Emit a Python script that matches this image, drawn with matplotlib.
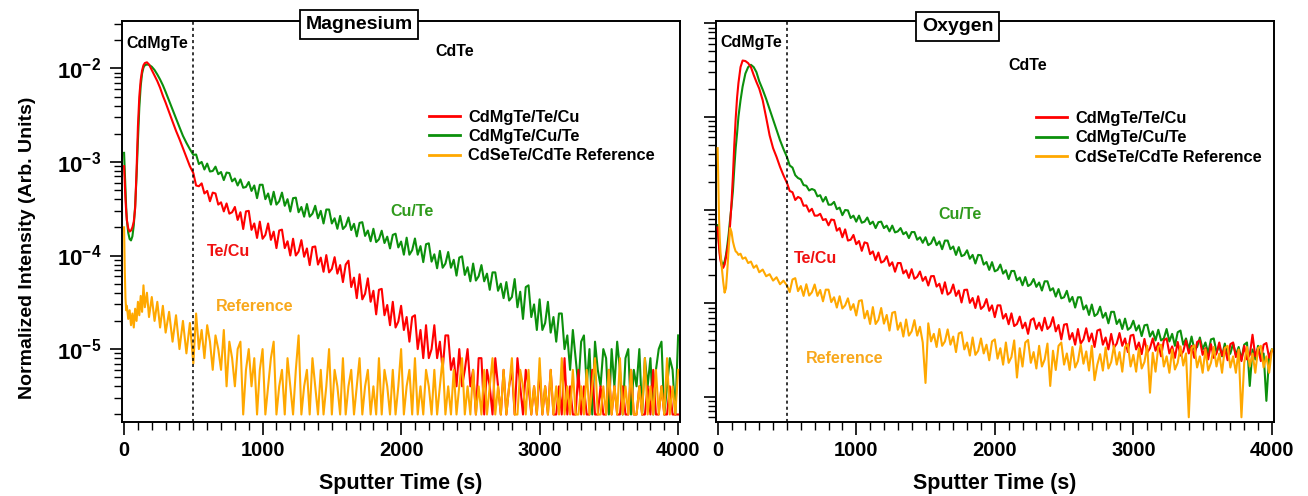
import matplotlib.pyplot as plt
from matplotlib.ticker import FuncFormatter, LogLocator, MultipleLocator, NullFormatter
import numpy as np

plt.rcParams['font.family'] = ['Liberation Sans', 'DejaVu Sans']
plt.rcParams['font.weight'] = 'bold'
plt.rcParams['axes.labelweight'] = 'bold'
plt.rcParams['mathtext.fontset'] = 'custom'
plt.rcParams['mathtext.rm'] = 'Liberation Sans:bold'
plt.rcParams['mathtext.bf'] = 'Liberation Sans:bold'

# sputter time (s): dense sampling around the CdMgTe peak, then every 20 s
PEAK_TIME = [0, 5, 10, 15, 20, 30, 40, 50, 60, 70, 80, 90, 100, 110, 120, 130,
             140, 150, 165, 180, 200, 220, 240, 260, 280, 300, 325, 350, 375,
             400, 425, 450, 475, 500]
TAIL_TIME = [520, 540, 560, 580, 600, 620, 640, 660, 680, 700,
             720, 740, 760, 780, 800, 820, 840, 860, 880, 900,
             920, 940, 960, 980, 1000, 1020, 1040, 1060, 1080, 1100,
             1120, 1140, 1160, 1180, 1200, 1220, 1240, 1260, 1280, 1300,
             1320, 1340, 1360, 1380, 1400, 1420, 1440, 1460, 1480, 1500,
             1520, 1540, 1560, 1580, 1600, 1620, 1640, 1660, 1680, 1700,
             1720, 1740, 1760, 1780, 1800, 1820, 1840, 1860, 1880, 1900,
             1920, 1940, 1960, 1980, 2000, 2020, 2040, 2060, 2080, 2100,
             2120, 2140, 2160, 2180, 2200, 2220, 2240, 2260, 2280, 2300,
             2320, 2340, 2360, 2380, 2400, 2420, 2440, 2460, 2480, 2500,
             2520, 2540, 2560, 2580, 2600, 2620, 2640, 2660, 2680, 2700,
             2720, 2740, 2760, 2780, 2800, 2820, 2840, 2860, 2880, 2900,
             2920, 2940, 2960, 2980, 3000, 3020, 3040, 3060, 3080, 3100,
             3120, 3140, 3160, 3180, 3200, 3220, 3240, 3260, 3280, 3300,
             3320, 3340, 3360, 3380, 3400, 3420, 3440, 3460, 3480, 3500,
             3520, 3540, 3560, 3580, 3600, 3620, 3640, 3660, 3680, 3700,
             3720, 3740, 3760, 3780, 3800, 3820, 3840, 3860, 3880, 3900,
             3920, 3940, 3960, 3980, 4000]
TIME = PEAK_TIME + TAIL_TIME

# ---- Magnesium panel ----
MG_TE_CU = [9e-4, 6e-4, 4e-4, 3e-4, 2.4e-4, 1.95e-4, 1.8e-4, 1.85e-4, 2.0e-4, 2.3e-4,
            3.2e-4, 8e-4, 2.4e-3, 5e-3, 7.5e-3, 9.5e-3, 1.08e-2, 1.14e-2, 1.16e-2, 1.1e-2,
            9.6e-3, 8.4e-3, 7.3e-3, 6.2e-3, 5.1e-3, 4.3e-3, 3.4e-3, 2.7e-3, 2.15e-3, 1.75e-3,
            1.4e-3, 1.12e-3, 9e-4, 7.6e-4,
            5.6e-4, 5.5e-4, 5.9e-4, 4.6e-4, 4.9e-4, 3.8e-4, 4.7e-4, 4.6e-4, 3.5e-4, 3.7e-4,
            2.96e-4, 3.6e-4, 2.8e-4, 2.9e-4, 3.3e-4, 2.4e-4, 2.9e-4, 1.92e-4, 2.96e-4, 3.0e-4,
            1.88e-4, 2.2e-4, 1.54e-4, 2.3e-4, 1.51e-4, 1.66e-4, 2.2e-4, 1.47e-4, 1.8e-4, 1.2e-4,
            1.85e-4, 1.89e-4, 1.2e-4, 1.42e-4, 1.0e-4, 1.51e-4, 1.0e-4, 1.1e-4, 1.46e-4, 9.7e-5,
            1.19e-4, 7.9e-5, 1.23e-4, 1.25e-4, 8.0e-5, 9.5e-5, 6.7e-5, 1.01e-4, 6.6e-5, 7.2e-5,
            9.6e-5, 6.4e-5, 7.9e-5, 5.2e-5, 8.0e-5, 8.8e-5, 4.6e-5, 5.8e-5, 3.5e-5, 6.3e-5,
            3.4e-5, 3.9e-5, 5.7e-5, 3.2e-5, 4.2e-5, 2.35e-5, 4.3e-5, 4.4e-5, 2.3e-5, 2.96e-5,
            1.8e-5, 3.2e-5, 1.7e-5, 1.97e-5, 2.9e-5, 1.6e-5, 2.2e-5, 1.2e-5, 2.2e-5, 2.3e-5,
            1.0e-5, 1.6e-5, 8e-6, 1.8e-5, 8e-6, 1.0e-5, 1.8e-5, 8e-6, 1.2e-5, 6e-6,
            1.4e-5, 1.4e-5, 6e-6, 8e-6, 4e-6, 1.0e-5, 4e-6, 6e-6, 1.0e-5, 4e-6,
            6e-6, 2e-6, 8e-6, 8e-6, 2e-6, 6e-6, 4e-6, 2e-6, 8e-6, 4e-6,
            2e-6, 6e-6, 2e-6, 4e-6, 6e-6, 2e-6, 8e-6, 4e-6, 2e-6, 6e-6,
            4e-6, 2e-6, 4e-6, 2e-6, 6e-6, 2e-6, 4e-6, 2e-6, 6e-6, 2e-6,
            2e-6, 4e-6, 2e-6, 8e-6, 2e-6, 4e-6, 2e-6, 2e-6, 6e-6, 2e-6,
            4e-6, 2e-6, 2e-6, 6e-6, 2e-6, 2e-6, 4e-6, 2e-6, 2e-6, 6e-6,
            2e-6, 4e-6, 2e-6, 2e-6, 4e-6, 2e-6, 2e-6, 6e-6, 2e-6, 2e-6,
            4e-6, 2e-6, 2e-6, 4e-6, 2e-6, 6e-6, 2e-6, 2e-6, 4e-6, 2e-6,
            2e-6, 4e-6, 2e-6, 2e-6, 2e-6]
MG_CU_TE = [1.25e-3, 8e-4, 5e-4, 3.3e-4, 2.4e-4, 1.75e-4, 1.5e-4, 1.45e-4, 1.6e-4, 2.1e-4,
            3.4e-4, 7e-4, 1.7e-3, 3.8e-3, 6.5e-3, 8.8e-3, 1.02e-2, 1.08e-2, 1.1e-2, 1.09e-2,
            1.04e-2, 9.6e-3, 8.6e-3, 7.6e-3, 6.6e-3, 5.6e-3, 4.5e-3, 3.6e-3, 2.9e-3, 2.35e-3,
            1.9e-3, 1.6e-3, 1.37e-3, 1.19e-3,
            1.2e-3, 9.5e-4, 1.0e-3, 8.3e-4, 9.6e-4, 7.9e-4, 8.0e-4, 8.9e-4, 7.4e-4, 7.8e-4,
            6.4e-4, 7.7e-4, 7.6e-4, 6.2e-4, 6.65e-4, 5.6e-4, 6.5e-4, 5.3e-4, 5.4e-4, 6.1e-4,
            4.9e-4, 5.6e-4, 4.1e-4, 5.7e-4, 5.7e-4, 4.0e-4, 4.6e-4, 3.5e-4, 4.8e-4, 3.5e-4,
            3.8e-4, 4.7e-4, 3.4e-4, 4.0e-4, 2.95e-4, 4.1e-4, 4.15e-4, 2.9e-4, 3.3e-4, 2.6e-4,
            3.55e-4, 2.6e-4, 2.8e-4, 3.4e-4, 2.5e-4, 3.0e-4, 2.2e-4, 3.1e-4, 3.1e-4, 2.2e-4,
            2.5e-4, 1.93e-4, 2.65e-4, 1.92e-4, 2.07e-4, 2.55e-4, 1.87e-4, 2.18e-4, 1.6e-4, 2.23e-4,
            2.27e-4, 1.62e-4, 1.85e-4, 1.42e-4, 1.93e-4, 1.39e-4, 1.49e-4, 1.84e-4, 1.36e-4, 1.59e-4,
            1.19e-4, 1.66e-4, 1.71e-4, 1.22e-4, 1.41e-4, 1.02e-4, 1.55e-4, 1.02e-4, 1.14e-4, 1.52e-4,
            1.02e-4, 1.26e-4, 8.5e-5, 1.32e-4, 1.35e-4, 8.6e-5, 1.03e-4, 7.3e-5, 1.12e-4, 7.4e-5,
            8.2e-5, 1.09e-4, 7.4e-5, 9.0e-5, 6.1e-5, 9.5e-5, 9.8e-5, 6.2e-5, 7.5e-5, 5.3e-5,
            8.2e-5, 5.4e-5, 6.0e-5, 7.9e-5, 5.3e-5, 6.4e-5, 4.3e-5, 6.6e-5, 6.6e-5, 4.2e-5,
            5.0e-5, 3.5e-5, 5.2e-5, 3.3e-5, 3.6e-5, 5.6e-5, 2.8e-5, 4.1e-5, 2.1e-5, 4.6e-5,
            4.8e-5, 2.2e-5, 3.0e-5, 1.6e-5, 3.4e-5, 1.6e-5, 1.9e-5, 3.2e-5, 1.5e-5, 2.2e-5,
            1.2e-5, 2.4e-5, 2.4e-5, 1.0e-5, 1.4e-5, 6e-6, 1.6e-5, 8e-6, 4e-6, 1.2e-5,
            1.4e-5, 4e-6, 1.0e-5, 2e-6, 1.2e-5, 6e-6, 4e-6, 1.0e-5, 8e-6, 2e-6,
            1.0e-5, 4e-6, 1.2e-5, 6e-6, 2e-6, 8e-6, 1.0e-5, 2e-6, 6e-6, 4e-6,
            1.0e-5, 2e-6, 8e-6, 4e-6, 8e-6, 2e-6, 6e-6, 1.0e-5, 1.2e-5, 2e-6,
            4e-6, 8e-6, 6e-6, 2e-6, 1.4e-5]
MG_REF = [2.0e-4, 7e-5, 3.5e-5, 2.6e-5, 2.9e-5, 2.1e-5, 2.6e-5, 1.8e-5, 2.4e-5, 1.7e-5,
          2.7e-5, 2.0e-5, 3.2e-5, 2.3e-5, 3.7e-5, 2.5e-5, 4.8e-5, 2.8e-5, 4.0e-5, 2.2e-5,
          3.6e-5, 2.0e-5, 3.2e-5, 1.7e-5, 2.9e-5, 1.5e-5, 2.5e-5, 1.2e-5, 2.3e-5, 1.0e-5,
          2.0e-5, 9e-6, 1.9e-5, 7e-6,
          2.4e-5, 1.0e-5, 1.6e-5, 8e-6, 1.8e-5, 1.2e-5, 6e-6, 1.4e-5, 1.0e-5, 6e-6,
          1.6e-5, 4e-6, 1.2e-5, 8e-6, 4e-6, 1.0e-5, 1.2e-5, 2e-6, 6e-6, 1.0e-5,
          4e-6, 8e-6, 2e-6, 6e-6, 1.0e-5, 2e-6, 4e-6, 8e-6, 1.2e-5, 2e-6,
          4e-6, 6e-6, 2e-6, 8e-6, 4e-6, 2e-6, 6e-6, 1.4e-5, 2e-6, 4e-6,
          6e-6, 2e-6, 8e-6, 4e-6, 2e-6, 6e-6, 2e-6, 4e-6, 1.0e-5, 2e-6,
          6e-6, 4e-6, 2e-6, 8e-6, 2e-6, 4e-6, 6e-6, 2e-6, 4e-6, 8e-6,
          2e-6, 4e-6, 6e-6, 2e-6, 4e-6, 2e-6, 8e-6, 2e-6, 6e-6, 4e-6,
          2e-6, 6e-6, 2e-6, 4e-6, 1.0e-5, 2e-6, 4e-6, 6e-6, 2e-6, 8e-6,
          2e-6, 4e-6, 2e-6, 6e-6, 4e-6, 2e-6, 6e-6, 2e-6, 4e-6, 8e-6,
          2e-6, 4e-6, 2e-6, 6e-6, 2e-6, 4e-6, 8e-6, 2e-6, 4e-6, 2e-6,
          6e-6, 2e-6, 4e-6, 2e-6, 6e-6, 2e-6, 4e-6, 8e-6, 2e-6, 4e-6,
          2e-6, 6e-6, 2e-6, 4e-6, 8e-6, 2e-6, 2e-6, 6e-6, 4e-6, 2e-6,
          6e-6, 2e-6, 4e-6, 2e-6, 8e-6, 2e-6, 4e-6, 2e-6, 6e-6, 2e-6,
          4e-6, 2e-6, 8e-6, 2e-6, 4e-6, 2e-6, 6e-6, 2e-6, 2e-6, 4e-6,
          2e-6, 6e-6, 2e-6, 4e-6, 8e-6, 2e-6, 2e-6, 4e-6, 2e-6, 6e-6,
          2e-6, 4e-6, 2e-6, 8e-6, 2e-6, 4e-6, 2e-6, 6e-6, 2e-6, 2e-6,
          4e-6, 2e-6, 8e-6, 2e-6, 4e-6, 2e-6, 6e-6, 2e-6, 4e-6, 2e-6,
          8e-6, 2e-6, 4e-6, 2e-6, 6e-6]

# ---- Oxygen panel ----
O_TE_CU = [6.5e-4, 5e-4, 4e-4, 3.3e-4, 2.9e-4, 2.5e-4, 2.4e-4, 2.6e-4, 3.1e-4, 3.8e-4,
           4.8e-4, 7e-4, 1.2e-3, 2.3e-3, 5e-3, 9.5e-3, 1.6e-2, 2.3e-2, 3.4e-2, 4.0e-2,
           3.95e-2, 3.75e-2, 3.4e-2, 2.8e-2, 2.35e-2, 2.0e-2, 1.5e-2, 9.8e-3, 6.3e-3, 4.6e-3,
           3.7e-3, 2.9e-3, 2.35e-3, 1.95e-3,
           1.6e-3, 1.55e-3, 1.28e-3, 1.38e-3, 1.33e-3, 1.11e-3, 1.12e-3, 9.6e-4, 1.03e-3, 8.7e-4,
           8.7e-4, 9.1e-4, 7.8e-4, 8.0e-4, 6.85e-4, 7.9e-4, 7.8e-4, 6.0e-4, 6.4e-4, 5.1e-4,
           6.2e-4, 4.7e-4, 4.8e-4, 5.4e-4, 4.3e-4, 4.65e-4, 3.65e-4, 4.5e-4, 4.4e-4, 3.36e-4,
           3.6e-4, 2.9e-4, 3.5e-4, 2.73e-4, 2.83e-4, 3.2e-4, 2.52e-4, 2.75e-4, 2.18e-4, 2.7e-4,
           2.7e-4, 2.09e-4, 2.26e-4, 1.87e-4, 2.32e-4, 1.83e-4, 1.92e-4, 2.19e-4, 1.74e-4, 1.92e-4,
           1.55e-4, 1.95e-4, 1.96e-4, 1.51e-4, 1.62e-4, 1.27e-4, 1.68e-4, 1.24e-4, 1.31e-4, 1.59e-4,
           1.2e-4, 1.37e-4, 1.02e-4, 1.39e-4, 1.4e-4, 1.01e-4, 1.14e-4, 8.9e-5, 1.19e-4, 8.7e-5,
           9.3e-5, 1.11e-4, 8.3e-5, 9.5e-5, 7.1e-5, 9.5e-5, 9.5e-5, 6.85e-5, 7.7e-5, 5.96e-5,
           7.8e-5, 5.7e-5, 6.0e-5, 7.2e-5, 5.4e-5, 6.2e-5, 4.7e-5, 6.6e-5, 6.9e-5, 5.3e-5,
           6.2e-5, 5.1e-5, 7.0e-5, 5.3e-5, 5.7e-5, 7.1e-5, 5.0e-5, 5.85e-5, 4.1e-5, 5.9e-5,
           6.0e-5, 4.1e-5, 4.8e-5, 3.6e-5, 5.3e-5, 3.7e-5, 4.1e-5, 5.4e-5, 3.9e-5, 4.75e-5,
           3.4e-5, 5.1e-5, 5.25e-5, 3.6e-5, 4.3e-5, 3.2e-5, 4.7e-5, 3.35e-5, 3.7e-5, 4.8e-5,
           3.5e-5, 4.2e-5, 3.0e-5, 4.5e-5, 4.6e-5, 3.2e-5, 3.8e-5, 2.85e-5, 4.15e-5, 2.95e-5,
           3.3e-5, 4.2e-5, 3.1e-5, 3.75e-5, 2.7e-5, 4.0e-5, 4.2e-5, 2.9e-5, 3.45e-5, 2.6e-5,
           3.85e-5, 2.75e-5, 3.05e-5, 4.0e-5, 2.9e-5, 3.5e-5, 2.6e-5, 3.85e-5, 4.0e-5, 2.8e-5,
           3.3e-5, 2.5e-5, 3.65e-5, 2.6e-5, 2.9e-5, 3.8e-5, 2.75e-5, 3.35e-5, 2.45e-5, 3.65e-5,
           3.8e-5, 2.65e-5, 3.15e-5, 2.4e-5, 3.5e-5, 2.5e-5, 2.8e-5, 4.6e-5, 2.7e-5, 3.3e-5,
           2.4e-5, 3.6e-5, 3.75e-5, 2.6e-5, 3.1e-5]
O_CU_TE = [6.9e-4, 5.2e-4, 4.2e-4, 3.5e-4, 3.1e-4, 2.7e-4, 2.6e-4, 2.8e-4, 3.3e-4, 4.2e-4,
           5.6e-4, 8e-4, 1.1e-3, 1.6e-3, 2.8e-3, 4.6e-3, 6.6e-3, 1.0e-2, 1.5e-2, 2.1e-2,
           2.9e-2, 3.4e-2, 3.6e-2, 3.4e-2, 3.0e-2, 2.4e-2, 1.95e-2, 1.55e-2, 1.2e-2, 9.3e-3,
           7.2e-3, 5.6e-3, 4.5e-3, 3.7e-3,
           3.0e-3, 2.85e-3, 2.36e-3, 2.2e-3, 2.13e-3, 1.85e-3, 1.82e-3, 1.62e-3, 1.68e-3, 1.63e-3,
           1.4e-3, 1.44e-3, 1.23e-3, 1.38e-3, 1.14e-3, 1.14e-3, 1.22e-3, 1.02e-3, 1.06e-3, 8.8e-4,
           1.0e-3, 9.9e-4, 8.2e-4, 8.7e-4, 7.5e-4, 8.7e-4, 7.3e-4, 7.5e-4, 8.3e-4, 7.05e-4,
           7.5e-4, 6.4e-4, 7.4e-4, 7.5e-4, 6.4e-4, 6.8e-4, 5.9e-4, 6.8e-4, 5.75e-4, 5.9e-4,
           6.4e-4, 5.5e-4, 5.8e-4, 5.0e-4, 5.8e-4, 5.8e-4, 4.8e-4, 5.1e-4, 4.45e-4, 5.1e-4,
           4.2e-4, 4.4e-4, 5.1e-4, 4.2e-4, 4.6e-4, 3.8e-4, 4.7e-4, 4.7e-4, 3.8e-4, 4.06e-4,
           3.3e-4, 4.0e-4, 3.2e-4, 3.3e-4, 3.7e-4, 3.0e-4, 3.3e-4, 2.67e-4, 3.3e-4, 3.27e-4,
           2.6e-4, 2.77e-4, 2.28e-4, 2.76e-4, 2.2e-4, 2.28e-4, 2.6e-4, 2.08e-4, 2.26e-4, 1.82e-4,
           2.22e-4, 2.22e-4, 1.76e-4, 1.89e-4, 1.56e-4, 1.91e-4, 1.53e-4, 1.6e-4, 1.82e-4, 1.5e-4,
           1.67e-4, 1.37e-4, 1.72e-4, 1.72e-4, 1.37e-4, 1.45e-4, 1.18e-4, 1.42e-4, 1.13e-4, 1.16e-4,
           1.36e-4, 1.04e-4, 1.17e-4, 9.0e-5, 1.16e-4, 1.16e-4, 8.6e-5, 9.5e-5, 7.5e-5, 9.7e-5,
           7.3e-5, 7.7e-5, 9.2e-5, 7.0e-5, 7.9e-5, 6.1e-5, 8.1e-5, 8.1e-5, 6.0e-5, 6.7e-5,
           5.3e-5, 6.85e-5, 5.2e-5, 5.5e-5, 6.5e-5, 5.1e-5, 5.8e-5, 4.45e-5, 5.8e-5, 5.9e-5,
           4.4e-5, 5.0e-5, 4.0e-5, 5.2e-5, 4.0e-5, 4.2e-5, 5.3e-5, 3.9e-5, 4.7e-5, 3.5e-5,
           4.9e-5, 5.1e-5, 3.6e-5, 4.2e-5, 3.2e-5, 4.4e-5, 3.2e-5, 3.4e-5, 4.3e-5, 3.2e-5,
           3.8e-5, 2.9e-5, 4.1e-5, 4.2e-5, 3.0e-5, 3.5e-5, 2.7e-5, 3.7e-5, 2.7e-5, 2.9e-5,
           3.7e-5, 2.8e-5, 3.4e-5, 2.5e-5, 3.6e-5, 3.8e-5, 1.3e-5, 3.2e-5, 2.5e-5, 3.5e-5,
           2.6e-5, 2.9e-5, 9e-6, 2.7e-5, 3.2e-5]
O_REF = [4.6e-3, 1.8e-3, 8e-4, 5e-4, 3.6e-4, 2.4e-4, 1.7e-4, 1.3e-4, 1.45e-4, 2.3e-4,
         4.0e-4, 6.4e-4, 5.8e-4, 4.6e-4, 4.0e-4, 3.6e-4, 3.5e-4, 3.3e-4, 3.4e-4, 3.0e-4,
         3.1e-4, 2.7e-4, 2.8e-4, 2.4e-4, 2.55e-4, 2.15e-4, 2.3e-4, 1.95e-4, 2.05e-4, 1.75e-4,
         1.9e-4, 1.6e-4, 1.75e-4, 1.55e-4,
         1.32e-4, 1.8e-4, 1.86e-4, 1.35e-4, 1.53e-4, 1.2e-4, 1.6e-4, 1.21e-4, 1.31e-4, 1.59e-4,
         1.2e-4, 1.39e-4, 1.05e-4, 1.4e-4, 1.4e-4, 1.03e-4, 1.16e-4, 9.0e-5, 1.19e-4, 8.8e-5,
         9.5e-5, 1.13e-4, 8.5e-5, 9.8e-5, 7.4e-5, 1.06e-4, 1.08e-4, 6.9e-5, 8.3e-5, 6.0e-5,
         9.1e-5, 6.0e-5, 6.65e-5, 8.9e-5, 6.05e-5, 7.5e-5, 5.1e-5, 7.9e-5, 8.1e-5, 5.2e-5,
         6.2e-5, 4.4e-5, 6.7e-5, 4.5e-5, 5.0e-5, 6.6e-5, 4.5e-5, 5.6e-5, 3.8e-5, 1.4e-5,
         6.1e-5, 3.9e-5, 4.7e-5, 3.4e-5, 5.3e-5, 3.5e-5, 3.9e-5, 5.25e-5, 3.6e-5, 4.4e-5,
         3.0e-5, 4.75e-5, 4.9e-5, 3.2e-5, 3.8e-5, 2.75e-5, 4.3e-5, 2.8e-5, 3.1e-5, 4.2e-5,
         2.9e-5, 3.6e-5, 2.45e-5, 3.9e-5, 4.1e-5, 2.55e-5, 3.3e-5, 2.2e-5, 3.8e-5, 2.3e-5,
         2.65e-5, 4.0e-5, 1.6e-5, 3.3e-5, 2.1e-5, 3.8e-5, 4.05e-5, 2.3e-5, 3.0e-5, 2.0e-5,
         3.5e-5, 2.1e-5, 2.5e-5, 3.7e-5, 1.3e-5, 3.1e-5, 1.93e-5, 3.5e-5, 3.8e-5, 2.2e-5,
         2.9e-5, 1.93e-5, 3.4e-5, 2.05e-5, 2.4e-5, 3.6e-5, 2.25e-5, 3.05e-5, 1.9e-5, 3.5e-5,
         1.5e-5, 2.2e-5, 2.85e-5, 1.9e-5, 3.35e-5, 2.0e-5, 2.35e-5, 3.5e-5, 2.2e-5, 3.0e-5,
         1.85e-5, 3.4e-5, 3.65e-5, 2.1e-5, 2.8e-5, 1.85e-5, 3.3e-5, 2.0e-5, 2.35e-5, 3.5e-5,
         1.1e-5, 2.95e-5, 1.85e-5, 3.4e-5, 3.6e-5, 2.1e-5, 2.7e-5, 1.8e-5, 3.2e-5, 1.95e-5,
         2.3e-5, 3.45e-5, 2.15e-5, 2.9e-5, 6e-6, 3.3e-5, 3.55e-5, 2.05e-5, 2.7e-5, 1.8e-5,
         3.2e-5, 1.9e-5, 2.3e-5, 3.4e-5, 2.1e-5, 2.9e-5, 1.8e-5, 3.3e-5, 3.5e-5, 2.05e-5,
         2.7e-5, 1.8e-5, 3.2e-5, 6e-6, 2.3e-5, 3.4e-5, 2.1e-5, 2.9e-5, 1.8e-5, 3.3e-5,
         3.5e-5, 2.05e-5, 2.7e-5, 1.8e-5, 3.2e-5]

SERIES_LABELS = ['CdMgTe/Te/Cu', 'CdMgTe/Cu/Te', 'CdSeTe/CdTe Reference']
RED = '#FF0000'
GREEN = '#0C900C'
ORANGE = '#FFA800'

W, H = 1308, 496
fig = plt.figure(figsize=(W / 100, H / 100), dpi=100)


def px_axes(x0, x1, top, bottom):
    return fig.add_axes([x0 / W, (H - bottom) / H, (x1 - x0) / W, (bottom - top) / H])


def decade_label(v, pos):
    return r'$\mathbf{10^{%d}}$' % int(round(np.log10(v)))


def draw_panel(ax, title, te_cu, cu_te, ref, ylim, xlim, show_ylabels, spots):
    g, = ax.plot(TIME, cu_te, color=GREEN, lw=1.5, zorder=2)
    r, = ax.plot(TIME, te_cu, color=RED, lw=1.5, zorder=3)
    o, = ax.plot(TIME, ref, color=ORANGE, lw=1.5, zorder=4)
    ax.axvline(500, color='black', lw=1.1, ls=(0, (2, 2)), zorder=5)

    ax.set_yscale('log')
    ax.set_ylim(*ylim)
    ax.set_xlim(*xlim)
    ax.xaxis.set_major_locator(MultipleLocator(1000))
    ax.xaxis.set_minor_locator(MultipleLocator(100))
    ax.yaxis.set_major_locator(LogLocator(base=10, numticks=20))
    ax.yaxis.set_minor_locator(LogLocator(base=10, subs=np.arange(2, 10) * 0.1, numticks=20))
    ax.yaxis.set_minor_formatter(NullFormatter())
    if show_ylabels:
        ax.yaxis.set_major_formatter(FuncFormatter(decade_label))
    else:
        ax.yaxis.set_major_formatter(NullFormatter())
    ax.tick_params(which='major', direction='out', length=9, width=1.2)
    ax.tick_params(which='minor', direction='out', length=5.5, width=1.0)
    ax.tick_params(axis='x', labelsize=14.5, pad=5)
    ax.tick_params(axis='y', labelsize=16, pad=6)
    for s in ax.spines.values():
        s.set_linewidth(1.4)
    ax.set_xlabel('Sputter Time (s)', fontsize=15.5, labelpad=9)

    ax.text(spots['title'][0], spots['title'][1], title, transform=ax.transAxes,
            ha='center', va='center', fontsize=14, zorder=10, clip_on=False,
            bbox=dict(boxstyle='square,pad=0.3', fc='white', ec='black', lw=1.3))
    ax.text(*spots['cdmgte'], 'CdMgTe', transform=ax.transAxes, ha='left', va='center', fontsize=11.5)
    ax.text(*spots['cdte'], 'CdTe', transform=ax.transAxes, ha='left', va='center', fontsize=11.5)
    ax.text(*spots['cute'], 'Cu/Te', transform=ax.transAxes, ha='left', va='center',
            fontsize=11.5, color='#2F9A1C')
    ax.text(*spots['tecu'], 'Te/Cu', transform=ax.transAxes, ha='left', va='center',
            fontsize=11.5, color='#F01010')
    ax.text(*spots['ref'], 'Reference', transform=ax.transAxes, ha='left', va='center',
            fontsize=11.5, color='#F8A81C')

    leg = ax.legend([r, g, o], SERIES_LABELS, loc='upper left', bbox_to_anchor=spots['legend'],
                    frameon=False, borderpad=0, borderaxespad=0, handlelength=1.9,
                    handletextpad=0.5, labelspacing=0.27,
                    prop={'family': 'Liberation Sans', 'weight': 'bold', 'size': 11.8})
    for line in leg.get_lines():
        line.set_linewidth(2.0)


ax_mg = px_axes(122, 679.5, 20.7, 421.7)
ax_o = px_axes(716, 1274, 20.7, 421.7)

draw_panel(ax_mg, 'Magnesium', MG_TE_CU, MG_CU_TE, MG_REF,
           ylim=(1.675e-6, 3.23e-2), xlim=(-15, 4010), show_ylabels=True,
           spots={'title': (0.4251, 0.990), 'cdmgte': (0.0084, 0.9436),
                  'cdte': (0.5614, 0.9227), 'cute': (0.4807, 0.5254),
                  'tecu': (0.152, 0.424), 'ref': (0.1686, 0.2868),
                  'legend': (0.5507, 0.7785)})
draw_panel(ax_o, 'Oxygen', O_TE_CU, O_CU_TE, O_REF,
           ylim=(5.38e-6, 1.069e-1), xlim=(-12, 4015), show_ylabels=False,
           spots={'title': (0.4328, 0.985), 'cdmgte': (0.0072, 0.9449),
                  'cdte': (0.5245, 0.8895), 'cute': (0.3986, 0.5155),
                  'tecu': (0.1389, 0.4075), 'ref': (0.1602, 0.158),
                  'legend': (0.5728, 0.7748)})

fig.text(28 / W, 1 - 247.5 / H, 'Normalized Intensity (Arb. Units)', rotation=90,
         ha='center', va='center', fontsize=14)

fig.savefig('out.png', dpi=100)
